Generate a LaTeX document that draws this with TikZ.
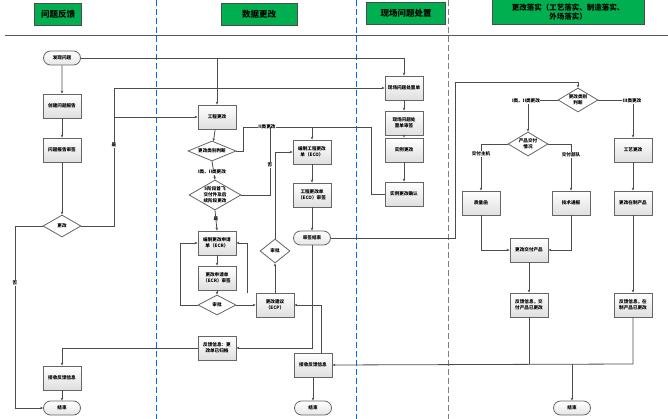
\documentclass[tikz,border=0pt]{standalone}
\usepackage{fontspec}
\setmainfont{Noto Sans CJK SC}
\XeTeXlinebreaklocale "zh"
\XeTeXlinebreakskip = 0pt
\usetikzlibrary{shapes.geometric,shapes.misc,arrows.meta}
\definecolor{hg}{RGB}{0,176,80}
\begin{document}
\begin{tikzpicture}[x=1pt,y=-1pt,
 every node/.style={font=\fontsize{4.6}{5.8}\selectfont\bfseries,align=center,inner sep=0.5pt},
 box/.style={draw=gray!80!black,thick,top color=white,bottom color=gray!25,minimum width=38pt,minimum height=24pt,text width=34pt},
 term/.style={draw=gray!80!black,thick,rounded rectangle,top color=white,bottom color=gray!20,minimum width=38pt,minimum height=14pt},
 dia/.style 2 args={draw=gray!80!black,thick,diamond,fill=white,inner sep=-2.5pt,aspect=2,minimum width=#1,minimum height=#2},
 head/.style={draw=gray!60!black,fill=hg,font=\fontsize{8.5}{10}\selectfont\bfseries,minimum height=22pt,inner sep=2pt},
 ar/.style={-{Stealth[length=3pt,width=2.5pt]},thick,draw=gray!60!black},
 ln/.style={thick,draw=gray!60!black},
 lab/.style={fill=white,inner sep=0.5pt}]
\useasboundingbox (0,0) rectangle (668,419);
% headers
\node[head,minimum width=47pt] (h1) at (58,14) {问题反馈};
\node[head,minimum width=76pt] (h2) at (259,14) {数据更改};
\node[head,minimum width=79pt] (h3) at (406,13) {现场问题处置};
\node[head,minimum width=152pt,minimum height=25pt,text width=146pt,font=\fontsize{7.5}{8.5}\selectfont\bfseries] (h4) at (568,12) {更改落实（工艺落实、制造落实、\\外场落实）};
\draw[gray!70!black,thick] (5,35) -- (668,35);
\draw[blue!60!cyan,thick,dash pattern=on 6pt off 3pt] (156,0) -- (156,419);
\draw[blue!60!cyan,thick,dash pattern=on 6pt off 3pt] (356,0) -- (356,419);
\draw[gray,thick,dash pattern=on 6pt off 3pt] (448,0) -- (448,419);
% column 1
\node[term] (fx) at (62,58) {发现问题};
\node[box] (cj) at (62,106) {创建问题报告};
\node[box] (sq) at (62,150) {问题报告审签};
\node[dia={38pt}{22pt}] (gg) at (62,226) {更改};
\node[box] (js1) at (62,378) {接收反馈信息};
\node[term] (end1) at (62,408) {结束};
% column 2
\node[box] (gc) at (217,117) {工程更改};
\node[dia={48pt}{20pt}] (lb) at (212,151) {更改类别判断};
\node[dia={52pt}{30pt},text width=34pt] (wj) at (215,195) {5阶段首飞交付件及后续阶段更改};
\node[box] (ecr) at (217,243) {编制更改申请单（ECR）};
\node[box] (ecrs) at (217,278) {更改申请单（ECR）审签};
\node[dia={38pt}{20pt}] (sp1) at (217,305) {审批};
\node[box] (ecp) at (275,305) {更改建议（ECP）};
\node[dia={30pt}{24pt}] (sp2) at (275,251) {审批};
\node[box] (eco) at (312,152) {编制工程更改单（ECO）};
\node[box] (ecos) at (312,195) {工程更改单（ECO）审签};
\node[term] (sqj) at (312,238) {审签结束};
\node[box] (fk1) at (217,348) {反馈信息：更改单已归档};
\node[box] (js2) at (313,365) {接收反馈信息};
\node[term] (end2) at (313,408) {结束};
% column 3
\node[box] (xc) at (404,88) {现场问题处置单};
\node[box] (xcs) at (404,123) {现场问题处置单审签};
\node[box] (sl) at (404,150) {实例更改};
\node[box] (slq) at (404,194) {实例更改确认};
% column 4
\node[dia={40pt}{24pt}] (lb2) at (578,100) {更改类别\\判断};
\node[dia={40pt}{24pt}] (jf) at (528,144) {产品交付\\情况};
\node[box] (zl) at (481,203) {质量函};
\node[box] (jt) at (571,203) {技术通报};
\node[box] (gy) at (633,150) {工艺更改};
\node[box] (zz) at (633,203) {更改在制产品};
\node[box] (jfc) at (529,250) {更改交付产品};
\node[box] (fk2) at (529,305) {反馈信息，交付产品已更改};
\node[box] (fk3) at (633,305) {反馈信息，在制产品已更改};
\node[term] (end3) at (572,408) {结束};
\coordinate (j1) at (572,364);
% connectors col1
\draw[ar] (fx.east) -- (404,58) -- (xc.north);
\draw[ar] (217,58) -- (gc.north);
\draw[ar] (fx) -- (cj);
\draw[ar] (cj) -- (sq);
\draw[ar] (sq) -- (gg);
\draw[ar] (gg.east) -- (114,226) -- (114,88) -- (xc.west);
\draw[ar] (114,117) -- (gc.west);
\node[lab] at (114,145) {是};
\draw[ar] (gg.west) -- (15,226) -- (15,408) -- (end1.west);
\node[lab] at (15,283) {否};
\draw[ar] (js1) -- (end1);
% col2
\draw[ar] (gc) -- (lb);
\draw[ln] (lb.east) -- (243,151) -- (243,127) -- (371,127) -- (371,194) -- (slq.west);
\draw[ar] (312,127) -- (eco.north);
\node[lab] at (267,127) {II类更改};
\draw[ar] (lb.south) -- (wj.north);
\node[lab] at (212,172) {I类、II类更改};
\draw[ln] (wj.east) -- (270,195) -- (270,127);
\node[lab] at (270,165) {否};
\draw[ar] (wj.south) -- (ecr.north) node[lab,pos=0.4] {是};
\draw[ar] (ecr) -- (ecrs);
\draw[ar] (ecrs) -- (sp1);
\draw[ar] (sp1.west) -- (180,305) -- (180,243) -- (ecr.west);
\draw[ar] (sp1.east) -- (ecp.west);
\draw[ar] (ecp.north) -- (sp2.south);
\draw[ar] (sp2.north) -- (275,152) -- (eco.west);
\draw[ar] (247,293) -- (247,243) -- (ecr.east);
\draw[ar] (eco) -- (ecos);
\draw[ar] (ecos) -- (sqj);
\draw[ar] (sqj.south) -- (312,348) -- (fk1.east);
\draw[ar] (js2.north -| 321,0) -- (321,305) -- (ecp.east);
\draw[ar] (fk1.west) -- (62,348) -- (js1.north);
\draw[ar] (js2) -- (end2);
% col3
\draw[ar] (xc) -- (xcs);
\draw[ar] (xcs) -- (sl);
\draw[ar] (sl) -- (slq);
% col4
\draw[ar] (sqj.east) -- (455,238) -- (455,82) -- (578,82) -- (lb2.north);
\draw[ar] (lb2.west) -- (528,100) -- (jf.north);
\node[lab] at (526,101) {I类、II类更改};
\draw[ar] (lb2.east) -- (633,100) -- (gy.north);
\node[lab] at (632,101) {III类更改};
\draw[ar] (jf.west) -- (481,144) -- (zl.north);
\node[lab] at (481,154) {交付主机};
\draw[ar] (jf.east) -- (571,144) -- (jt.north);
\node[lab] at (571,155) {交付部队};
\draw[ar] (zl.south) -- (481,250) -- (jfc.west);
\draw[ar] (jt.south) -- (571,250) -- (jfc.east);
\draw[ar] (jfc) -- (fk2);
\draw[ar] (gy) -- (zz);
\draw[ar] (zz) -- (fk3);
\draw[ln] (fk2.south) -- (529,364);
\draw[ar] (fk3.south) -- (633,364) -- (js2.east);
\draw[ar] (j1) -- (end3.north);
\end{tikzpicture}
\end{document}
